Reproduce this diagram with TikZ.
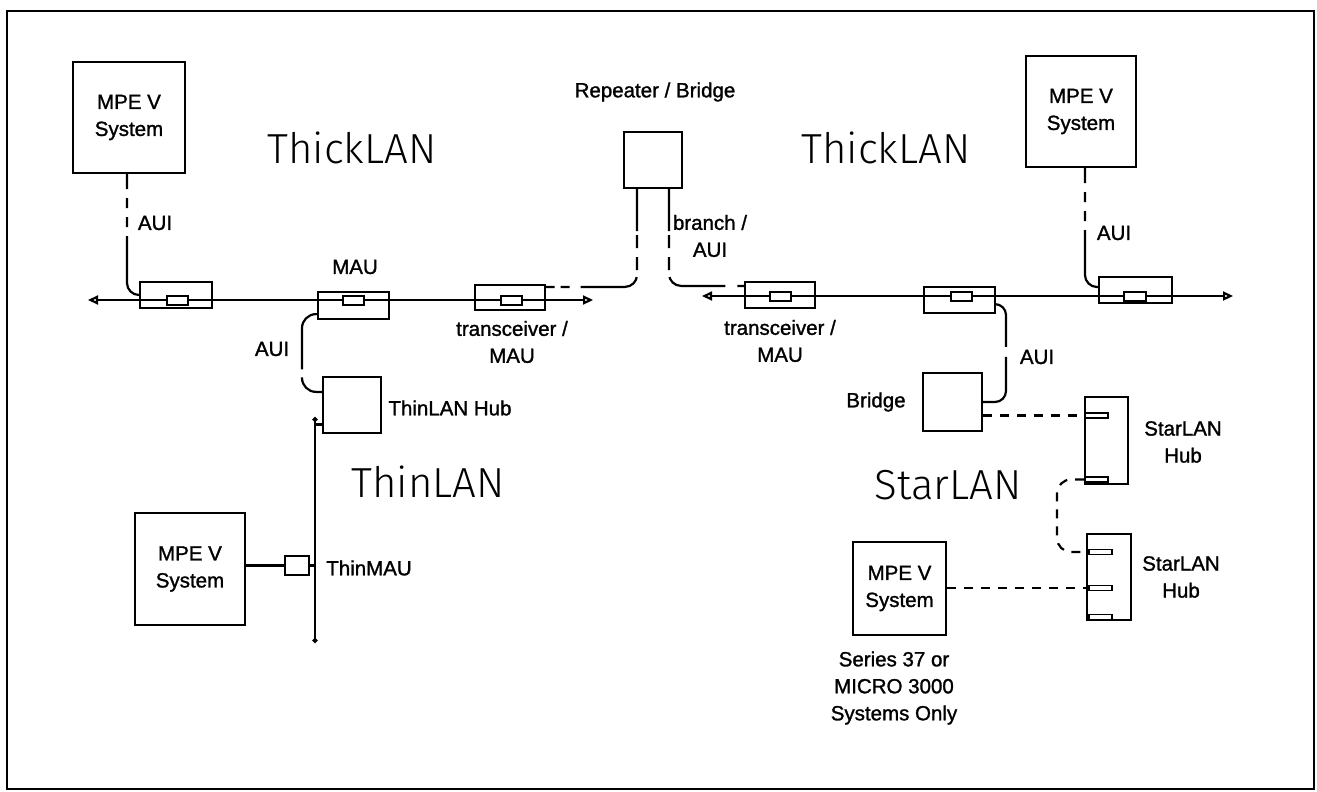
\documentclass[tikz,border=0pt]{standalone}
\usepackage{fontspec}
\setmainfont{Liberation Sans}
\newfontfamily\labelfont{Liberation Sans}[RawFeature={embolden=1.3}]
\newfontfamily\lightfont{Fira Sans Light}
\usepackage{tikz}
\usetikzlibrary{arrows.meta, shapes, positioning, calc}

\begin{document}
\begin{tikzpicture}[x=1pt, y=-1pt,
  sysbox/.style={rectangle, draw, line width=2.2pt, minimum width=111pt,
                 minimum height=111pt, align=center, inner sep=0pt,
                 font=\labelfont\fontsize{20.5}{27}\selectfont},
  plainbox/.style={rectangle, draw, line width=2.2pt, inner sep=0pt},
  tapbox/.style={rectangle, draw, line width=2.2pt, minimum width=71pt,
                 minimum height=26pt, inner sep=0pt},
  core/.style={rectangle, draw, fill=white, line width=2pt, minimum width=21pt,
               minimum height=9pt, inner sep=0pt},
  port/.style={rectangle, draw, fill=white, line width=1.6pt, minimum width=23pt,
               minimum height=5pt, inner sep=0pt},
  lbl/.style={font=\labelfont\fontsize{20.5}{27}\selectfont, align=center, inner sep=0pt},
  netname/.style={font=\lightfont\fontsize{42}{42}\selectfont, inner sep=0pt},
  wire/.style={line width=2.2pt},
  bus/.style={line width=2.2pt,
              {Triangle[open, length=10pt, width=9pt]}-{Triangle[open, length=10pt, width=9pt]}},
  dashwire/.style={line width=2.2pt, dash pattern=on 9pt off 8pt}
]
\useasboundingbox (0,0) rectangle (1317,792);
\draw[line width=2.2pt] (7,11) rectangle (1314,789);

% systems, repeater, hubs
\node[sysbox, minimum width=112pt] (mpeA) at (129,117.5) {MPE V\\System};
\node[sysbox, minimum width=110pt] (mpeB) at (1081,111.5) {MPE V\\System};
\node[sysbox, minimum width=110pt, minimum height=112pt] (mpeC) at (190,569) {MPE V\\System};
\node[sysbox, minimum width=93pt, minimum height=93pt] (mpeD) at (899.5,588.5) {MPE V\\System};
\node[plainbox, minimum width=58pt, minimum height=56pt] (rep) at (653,160) {};
\node[plainbox, minimum width=58pt, minimum height=56pt] (hubThin) at (352,405) {};
\node[plainbox, minimum width=59pt, minimum height=58pt] (bridge) at (952.5,402) {};
\node[plainbox, minimum width=43pt, minimum height=87pt] (hubStarA) at (1106.5,440.5) {};
\node[plainbox, minimum width=44pt, minimum height=86pt] (hubStarB) at (1109,577) {};
\node[plainbox, minimum width=24pt, minimum height=19pt] (thinmau) at (297,565.5) {};

% coaxial segments
\coordinate (thickAw) at (88,300);
\coordinate (thickAe) at (593,300);
\coordinate (thickBw) at (702,296);
\coordinate (thickBe) at (1233,296);
\draw[bus] (thickAw) -- (thickAe);
\draw[bus] (thickBw) -- (thickBe);

% transceivers (MAU)
\node[tapbox, minimum width=72pt] (mauA) at (176,295) {};
\node[tapbox, minimum height=27pt] (mauB) at (353.5,305.5) {};
\node[tapbox, minimum width=70pt, minimum height=25pt] (mauC) at (510,297.5) {};
\node[tapbox, minimum width=70pt] (mauD) at (780,295) {};
\node[tapbox] (mauE) at (959.5,300) {};
\node[tapbox, minimum width=73pt] (mauF) at (1135.5,290) {};
\node[core] (mauAcore) at (177,300) {};
\node[core] (mauBcore) at (353.5,300) {};
\node[core] (mauCcore) at (511,300) {};
\node[core] (mauDcore) at (780,296) {};
\node[core] (mauEcore) at (961.5,296) {};
\node[core, minimum width=22pt] (mauFcore) at (1135,296) {};

% StarLAN ports
\node[port] (portA1) at (1096.5,415.5) {};
\node[port] (portA2) at (1096.5,479.5) {};
\node[port] (portB1) at (1100.5,552) {};
\node[port] (portB2) at (1100.5,588) {};
\node[port] (portB3) at (1100.5,617) {};

% AUI cables
\draw[wire, rounded corners=12pt, dash pattern=on 15pt off 9pt on 10pt off 9pt on 10pt off 9pt on 500pt]
  ($(mpeA.south)+(-2,0)$) |- (mauA.west);
\draw[wire, rounded corners=12pt, dash pattern=on 15pt off 9pt on 10pt off 9pt on 10pt off 9pt on 500pt]
  ($(mpeB.south)+(4,0)$) |- ($(mauF.west)+(0,-3)$);
\draw[wire, rounded corners=12pt,
      dash pattern=on 42pt off 4pt on 13pt off 9pt on 13pt off 7pt on 61pt off 11pt on 9pt off 6pt on 40pt]
  ($(rep.south)+(-16,0)$) |- ($(mauC.north east)+(0,3)$);
\draw[wire, rounded corners=12pt,
      dash pattern=on 42pt off 4pt on 13pt off 9pt on 13pt off 7pt on 60pt off 12pt on 7pt off 10pt]
  ($(rep.south)+(16,0)$) |- ($(mauD.north west)+(0,5)$);
\draw[wire, rounded corners=14pt, dash pattern=on 64pt off 8pt on 300pt]
  ($(mauB.south west)+(0,-6)$) -| (302,350) |- ($(hubThin.north west)+(0,16)$);
\draw[wire, rounded corners=11pt, dash pattern=on 50pt off 10pt on 300pt]
  ($(mauE.south east)+(0,-10)$) -| (1006,350) |- (bridge.east);

% ThinLAN backbone
\coordinate (thinTop) at (315,417);
\coordinate (thinBot) at (315,643);
\draw[wire, {Circle[length=5pt]}-{Circle[length=5pt]}] (thinTop) -- (thinBot);
\coordinate (thinHubT) at (315,424);
\draw[line width=3pt] (thinHubT) -- (thinHubT -| hubThin.west);
\draw[wire] (mpeC.east |- thinmau.west) -- (thinmau.west);
\draw[line width=3pt] (thinmau.east) -- (thinmau.east -| thinTop);

% StarLAN wiring
\draw[dashwire] (bridge.east |- portA1.west) -- (portA1.west);
\draw[dashwire, rounded corners=14pt] (portA2.west) -| (1057,515) |- (portB1.west);
\draw[dashwire] (mpeD.east |- portB2.west) -- (portB2.west);

% labels
\node[netname] (thickAname) at (352,148) {ThickLAN};
\node[netname] (thickBname) at (886,148) {ThickLAN};
\node[netname] (thinname) at (428,482) {ThinLAN};
\node[netname] (starname) at (948,485) {StarLAN};
\node[lbl] (replbl) at (655,92) {Repeater / Bridge};
\node[lbl] (auiAlbl) at (155,223) {AUI};
\node[lbl] (auiBlbl) at (1114,233) {AUI};
\node[lbl] (auiClbl) at (272,349) {AUI};
\node[lbl] (auiDlbl) at (1037,357) {AUI};
\node[lbl] (maulbl) at (355,267) {MAU};
\node[lbl] (xcvrAlbl) at (512,342) {transceiver /\\MAU};
\node[lbl] (xcvrBlbl) at (780,341) {transceiver /\\MAU};
\node[lbl] (branchlbl) at (710,236) {branch /\\AUI};
\node[lbl] (thinhublbl) at (450,408) {ThinLAN Hub};
\node[lbl] (thinmaulbl) at (369,568) {ThinMAU};
\node[lbl] (bridgelbl) at (876,402) {Bridge};
\node[lbl] (starAlbl) at (1183,442) {StarLAN\\Hub};
\node[lbl] (starBlbl) at (1181,577) {StarLAN\\Hub};
\node[lbl] (serieslbl) at (894,688) {Series 37 or\\MICRO 3000\\Systems Only};
\end{tikzpicture}
\end{document}
